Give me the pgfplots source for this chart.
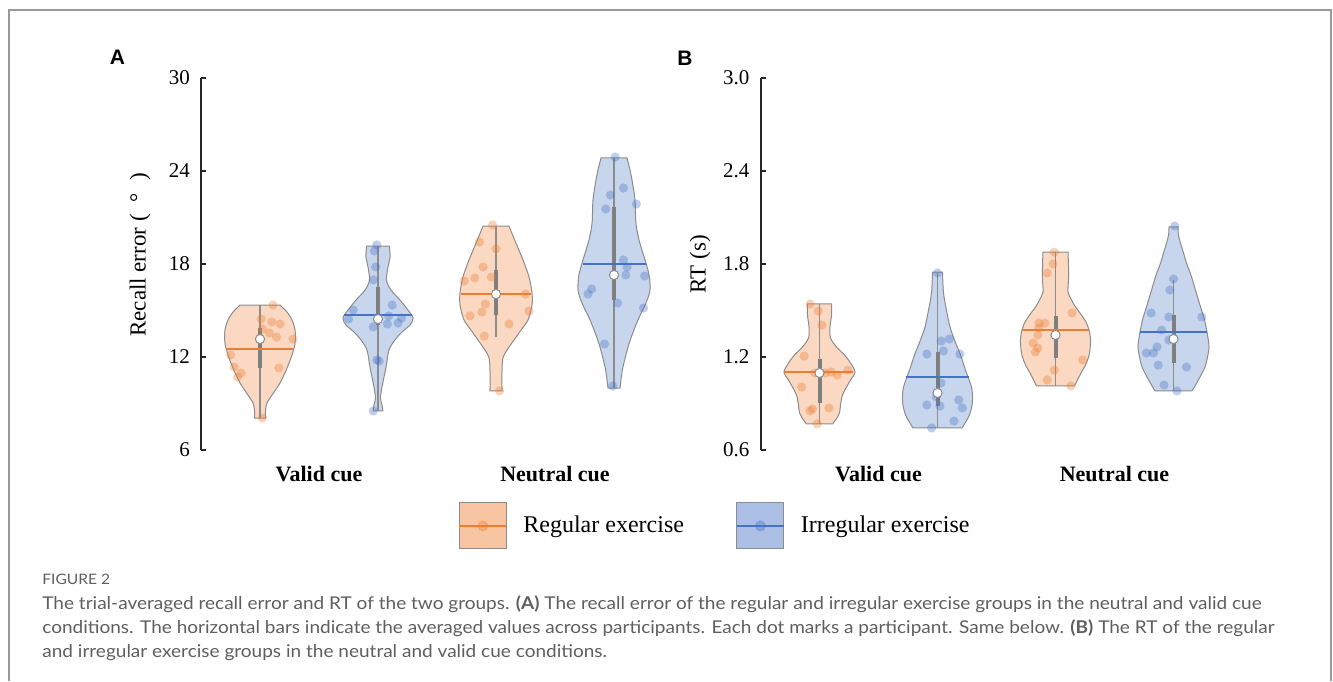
\documentclass[border=0pt]{standalone}
\usepackage{fontspec}
\setmainfont{Liberation Serif}
\newfontfamily\arialfont{Liberation Sans}
\newfontfamily\capfont[FakeStretch=1.08]{Lato}
\usepackage{pgfplots}
\usepackage{pgfplotstable}
\pgfplotsset{compat=1.18}
\usepgfplotslibrary{fillbetween}

\definecolor{vorange}{HTML}{ED7D31}
\definecolor{vblue}{HTML}{4472C4}
\definecolor{vgray}{HTML}{8C8C8C}
\definecolor{dgray}{HTML}{7F7F7F}
\definecolor{capgray}{HTML}{5E5E5E}
\definecolor{framegray}{HTML}{9A9A9A}

% violin outlines: y, half width (in x units)
\pgfplotstableread{
y w
15.35 0.169
14.90 0.229
14.39 0.271
13.74 0.297
12.90 0.297
12.13 0.271
11.29 0.229
10.32 0.169
9.55 0.102
9.03 0.059
8.58 0.047
8.06 0.047
}\vA
\pgfplotstableread{
y w
19.16 0.097
18.45 0.102
17.81 0.085
16.97 0.072
16.32 0.110
15.68 0.186
15.03 0.254
14.52 0.297
14.06 0.271
13.61 0.203
13.10 0.144
12.45 0.093
11.35 0.068
10.06 0.034
9.35 0.021
8.90 0.034
8.52 0.042
}\vB
\pgfplotstableread{
y w
20.45 0.110
19.35 0.169
18.26 0.229
17.16 0.280
16.13 0.305
15.35 0.305
14.39 0.271
13.74 0.212
13.10 0.153
12.45 0.093
11.94 0.059
11.16 0.051
9.81 0.051
}\vC
\pgfplotstableread{
y w
24.84 0.110
24.06 0.136
23.23 0.157
22.13 0.178
20.65 0.186
19.55 0.212
18.26 0.263
17.29 0.297
16.32 0.305
15.48 0.271
14.39 0.203
13.42 0.153
12.65 0.119
11.35 0.076
10.52 0.059
10.00 0.051
}\vD
\pgfplotstableread{
y w
1.542 0.102
1.471 0.102
1.394 0.089
1.323 0.093
1.265 0.144
1.213 0.212
1.161 0.263
1.103 0.301
1.052 0.263
1.006 0.229
0.955 0.195
0.890 0.178
0.839 0.169
0.794 0.136
0.768 0.110
}\vE
\pgfplotstableread{
y w
1.748 0.042
1.613 0.051
1.503 0.076
1.394 0.106
1.310 0.144
1.213 0.195
1.116 0.237
1.006 0.288
0.923 0.297
0.858 0.284
0.813 0.263
0.768 0.229
0.742 0.208
}\vF
\pgfplotstableread{
y w
1.877 0.106
1.794 0.110
1.697 0.110
1.619 0.106
1.568 0.136
1.523 0.169
1.471 0.220
1.419 0.263
1.361 0.288
1.310 0.297
1.245 0.292
1.200 0.280
1.148 0.254
1.097 0.216
1.052 0.186
1.013 0.161
}\vG
\pgfplotstableread{
y w
2.039 0.038
1.987 0.042
1.935 0.059
1.871 0.085
1.806 0.110
1.729 0.148
1.632 0.186
1.523 0.229
1.439 0.263
1.342 0.288
1.265 0.301
1.200 0.288
1.135 0.267
1.065 0.220
1.013 0.182
0.981 0.157
}\vH

% #1 table, #2 centre, #3 colour, #4 id
\newcommand{\violin}[4]{%
  \addplot[draw=none, smooth, name path=R#4, forget plot] table[x expr=#2+\thisrow{w}, y=y]{#1};
  \addplot[draw=none, smooth, name path=L#4, forget plot] table[x expr=#2-\thisrow{w}, y=y]{#1};
  \addplot[draw=vgray, line width=0.5pt, fill=#3!30!white, forget plot] fill between[of=R#4 and L#4, reverse=true];
}

\pgfplotsset{
  dots/.style={only marks, mark=*, mark size=2.3pt, forget plot,
    mark options={fill=#1, fill opacity=0.35, draw opacity=0}},
  whisk/.style={vgray, line width=0.6pt, forget plot},
  iqr/.style={dgray, line width=2pt, forget plot},
  meanl/.style={#1, line width=1pt, forget plot},
  med/.style={only marks, mark=*, mark size=2.3pt, forget plot,
    mark options={fill=white, draw=vgray, line width=0.5pt}},
  leg/.style={legend image code/.code={
    \draw[draw=vgray, line width=0.5pt, fill=#1!45!white] (0pt,-11.5pt) rectangle (23.5pt,11.5pt);
    \draw[#1, line width=1pt] (0pt,0pt) -- (23.5pt,0pt);
    \fill[#1, opacity=0.35] (11.75pt,0pt) circle (2.5pt);
  }},
  violinaxis/.style={
    scale only axis, width=236pt, height=186pt,
    anchor=south west, clip=false,
    xmin=0.5, xmax=4.5,
    axis x line=bottom, axis y line=left,
    axis line style={-}, x axis line style={draw=none},
    y axis line style={line width=1pt, draw=black!85},
    xtick={1.5,3.5}, xticklabels={Valid cue, Neutral cue},
    xtick style={draw=none},
    xticklabel style={font=\bfseries\fontsize{11}{13}\selectfont, yshift=-4.5pt},
    tick align=inside, major tick length=2.5pt,
    ytick style={line width=1pt, draw=black!85},
    yticklabel style={font=\fontsize{10.5}{12}\selectfont, xshift=-2pt},
    /pgf/number format/assume math mode=true,
  },
}

\begin{document}
\begin{tikzpicture}[x=0.5pt, y=-0.5pt]
\draw[framegray, line width=0.75pt] (9,681) -- (9,10) -- (1331,10) -- (1331,681);

% panel A
\begin{axis}[violinaxis, at={(100.5pt,-225pt)},
  ymin=6, ymax=30, ytick={6,12,18,24,30},
  legend columns=2,
  legend style={at={(0.5445,-0.1398)}, anchor=north west, draw=none, fill=none,
    inner sep=0pt, font=\fontsize{12}{14}\selectfont,
    /tikz/every odd column/.append style={column sep=6pt},
    /tikz/every even column/.append style={column sep=24pt}},
]
\addlegendimage{leg=vorange}
\addlegendentry{Regular exercise}
\addlegendimage{leg=vblue}
\addlegendentry{Irregular exercise}

\violin{\vA}{1}{vorange}{a}
\violin{\vB}{2}{vblue}{b}
\violin{\vC}{3}{vorange}{c}
\violin{\vD}{4}{vblue}{d}

\addplot[dots=vorange] coordinates {(1.11,15.35)(1.01,14.45)(1.10,14.26)(1.17,14.13)(1.02,13.81)(1.08,13.55)(1.14,13.29)(1.28,13.16)(0.75,12.13)(0.78,11.35)(0.84,10.97)(0.81,10.71)(1.16,11.29)(1.02,8.06)};
\addplot[dots=vblue] coordinates {(1.99,19.23)(1.97,18.84)(1.98,17.81)(1.96,16.97)(2.12,15.35)(1.79,15.03)(1.75,14.45)(1.96,13.94)(2.08,14.13)(2.09,14.65)(2.17,14.19)(2.20,14.52)(1.99,11.81)(2.01,11.74)(1.96,8.52)};
\addplot[dots=vorange] coordinates {(2.97,20.52)(2.86,19.42)(3.00,18.97)(2.89,17.81)(2.82,17.10)(2.73,16.90)(2.96,17.16)(3.25,16.06)(2.91,15.42)(2.88,14.90)(2.78,14.65)(3.28,14.97)(3.11,14.13)(2.90,13.35)(3.03,9.81)};
\addplot[dots=vblue] coordinates {(4.01,24.90)(4.08,22.90)(3.97,22.45)(4.19,21.87)(3.93,21.55)(4.08,18.26)(4.11,17.81)(4.10,17.29)(4.26,17.23)(3.81,16.39)(3.78,16.06)(4.03,15.48)(4.25,15.16)(3.92,12.84)(3.99,10.13)};

\addplot[whisk] coordinates {(1,8.06)(1,15.35)};
\addplot[whisk] coordinates {(2,8.52)(2,19.16)};
\addplot[whisk] coordinates {(3,13.29)(3,20.45)};
\addplot[whisk] coordinates {(4,10.00)(4,24.84)};
\addplot[iqr] coordinates {(1,11.3)(1,13.9)};
\addplot[iqr] coordinates {(2,14.06)(2,16.52)};
\addplot[iqr] coordinates {(3,14.71)(3,17.61)};
\addplot[iqr] coordinates {(4,15.68)(4,21.68)};
\addplot[meanl=vorange] coordinates {(0.712,12.5)(1.28,12.5)};
\addplot[meanl=vblue] coordinates {(1.712,14.73)(2.288,14.73)};
\addplot[meanl=vorange] coordinates {(2.703,16.06)(3.297,16.06)};
\addplot[meanl=vblue] coordinates {(3.737,18.0)(4.271,18.0)};
\addplot[med] coordinates {(1,13.16)(2,14.45)(3,16.06)(4,17.29)};
\end{axis}

% panel B
\begin{axis}[violinaxis, at={(380.25pt,-225pt)},
  ymin=0.6, ymax=3.0, ytick={0.6,1.2,1.8,2.4,3.0},
  yticklabel style={/pgf/number format/.cd, fixed, fixed zerofill, precision=1},
]
\violin{\vE}{1}{vorange}{e}
\violin{\vF}{2}{vblue}{f}
\violin{\vG}{3}{vorange}{g}
\violin{\vH}{4}{vblue}{h}

\addplot[dots=vorange] coordinates {(0.92,1.542)(0.99,1.497)(1.02,1.406)(0.87,1.206)(0.96,1.097)(1.05,1.097)(1.10,1.103)(1.15,1.084)(1.24,1.116)(0.85,1.006)(0.94,0.865)(0.92,0.852)(1.08,0.871)(0.98,0.768)};
\addplot[dots=vblue] coordinates {(2.00,1.742)(2.03,1.303)(2.10,1.316)(1.91,1.219)(2.05,1.239)(2.19,1.219)(2.03,1.032)(1.99,0.942)(2.02,0.884)(1.91,0.890)(2.18,0.923)(2.21,0.871)(2.14,0.787)(1.95,0.742)};
\addplot[dots=vorange] coordinates {(2.99,1.877)(2.98,1.800)(2.93,1.742)(3.14,1.484)(2.91,1.419)(2.86,1.419)(2.86,1.387)(2.85,1.342)(2.81,1.290)(2.85,1.258)(2.83,1.232)(3.23,1.181)(2.99,1.116)(2.93,1.052)(3.13,1.013)};
\addplot[dots=vblue] coordinates {(4.01,2.045)(4.00,1.703)(3.97,1.632)(3.81,1.484)(3.96,1.458)(4.24,1.458)(3.90,1.374)(3.86,1.265)(3.96,1.310)(3.77,1.226)(3.83,1.226)(3.87,1.148)(4.11,1.135)(3.92,1.019)(4.03,0.981)};

\addplot[whisk] coordinates {(1,0.768)(1,1.542)};
\addplot[whisk] coordinates {(2,0.742)(2,1.748)};
\addplot[whisk] coordinates {(3,1.013)(3,1.877)};
\addplot[whisk] coordinates {(4,0.981)(4,1.697)};
\addplot[iqr] coordinates {(1,0.903)(1,1.187)};
\addplot[iqr] coordinates {(2,0.884)(2,1.232)};
\addplot[iqr] coordinates {(3,1.194)(3,1.465)};
\addplot[iqr] coordinates {(4,1.161)(4,1.471)};
\addplot[meanl=vorange] coordinates {(0.695,1.103)(1.288,1.103)};
\addplot[meanl=vblue] coordinates {(1.729,1.071)(2.263,1.071)};
\addplot[meanl=vorange] coordinates {(2.72,1.374)(3.288,1.374)};
\addplot[meanl=vblue] coordinates {(3.712,1.361)(4.28,1.361)};
\addplot[med] coordinates {(1,1.097)(2,0.968)(3,1.342)(4,1.316)};
\end{axis}

% labels
\node[font=\arialfont\bfseries\fontsize{10.5}{12}\selectfont, inner sep=0pt] at (117.5,57.5) {A};
\node[font=\arialfont\bfseries\fontsize{10.5}{12}\selectfont, inner sep=0pt] at (685,58) {B};
\node[rotate=90, font=\fontsize{11.5}{13}\selectfont, inner sep=0pt] at (140,255) {Recall error (\hspace{6pt}°\hspace{6pt})};
\node[rotate=90, font=\fontsize{11.5}{13}\selectfont, inner sep=0pt] at (700,264) {RT (s)};

% caption
\node[anchor=base west, inner sep=0pt, text=capgray, font=\capfont\fontsize{7.2}{8}\selectfont] at (42,584) {FIGURE 2};
\node[anchor=base west, inner sep=0pt, text=capgray, font=\capfont\fontsize{8.8}{10}\selectfont] at (42,609) {The trial-averaged recall error and RT of the two groups. {\bfseries(A)} The recall error of the regular and irregular exercise groups in the neutral and valid cue};
\node[anchor=base west, inner sep=0pt, text=capgray, font=\capfont\fontsize{8.8}{10}\selectfont] at (42,633) {conditions. The horizontal bars indicate the averaged values across participants. Each dot marks a participant. Same below. {\bfseries(B)} The RT of the regular};
\node[anchor=base west, inner sep=0pt, text=capgray, font=\capfont\fontsize{8.8}{10}\selectfont] at (42,657) {and irregular exercise groups in the neutral and valid cue conditions.};

\pgfresetboundingbox
\path[use as bounding box] (0,0) rectangle (1333,681);
\end{tikzpicture}
\end{document}
